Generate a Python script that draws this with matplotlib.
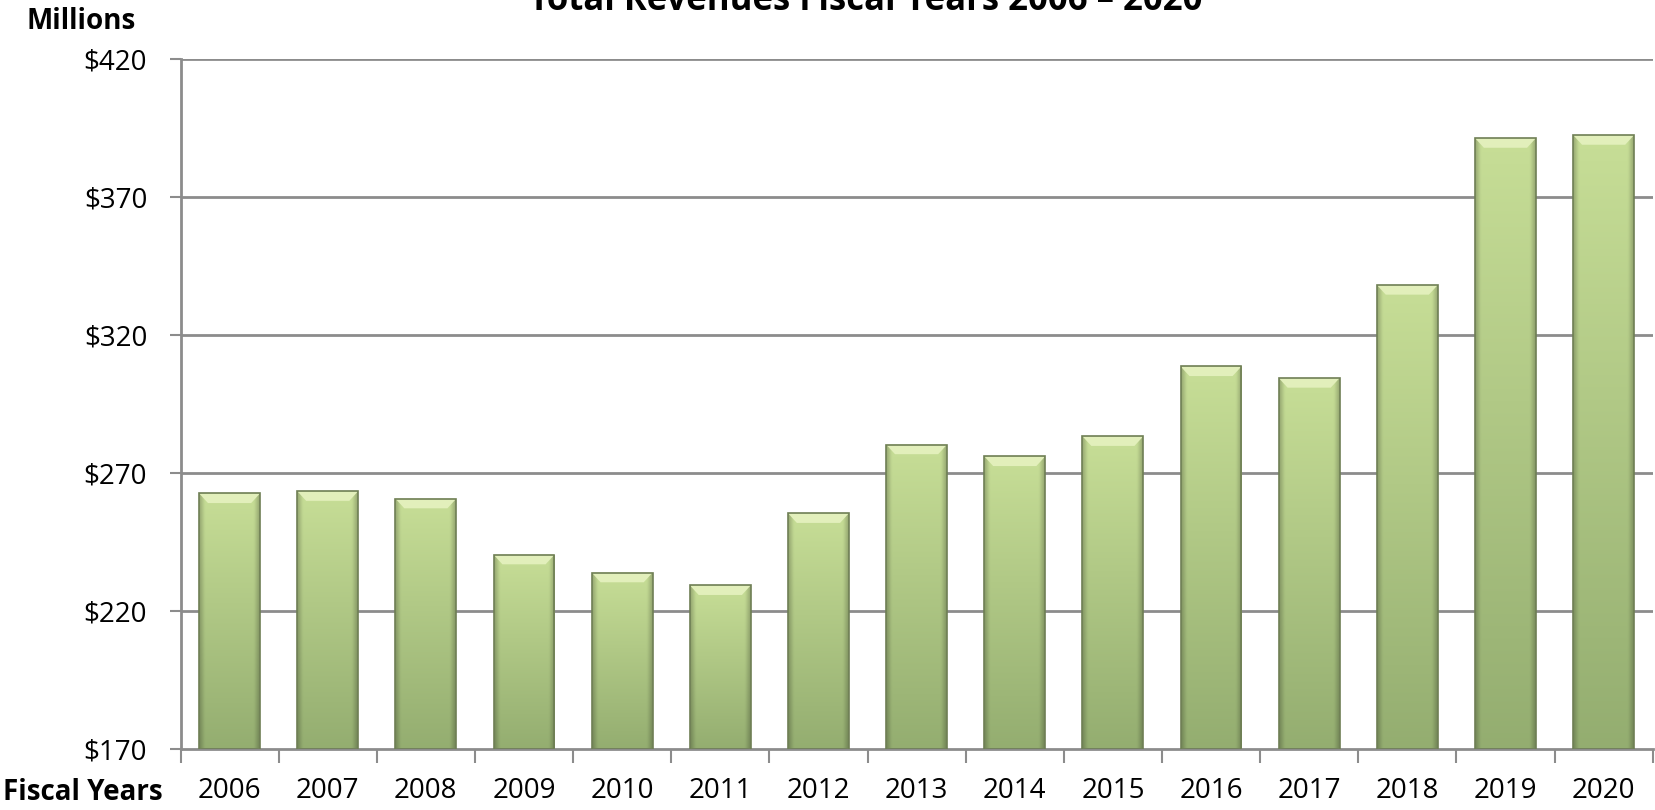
import numpy as np
import matplotlib.pyplot as plt
from matplotlib.patches import Polygon

# Revenue data (millions)
years = ['2006', '2007', '2008', '2009', '2010', '2011', '2012', '2013',
         '2014', '2015', '2016', '2017', '2018', '2019', '2020']
revenues = [262.6, 263.4, 260.7, 240.4, 233.9, 229.3, 255.4, 280.3,
            276.0, 283.3, 308.6, 304.4, 338.1, 391.3, 392.4]
yticks = [170, 220, 270, 320, 370, 420]

plt.rcParams['font.family'] = ['Open Sans', 'DejaVu Sans']

fig = plt.figure(figsize=(16.56, 8.10), dpi=100)
ax = fig.add_axes([0.109, 0.0753, 0.889, 0.852])

ymin, ymax = 170, 420
width = 0.62
x = np.arange(len(years))

# gridlines behind bars
for t in yticks[1:]:
    ax.axhline(t, color='#8c8c8c', lw=2, zorder=0)

light = np.array([0.78, 0.87, 0.59])
dark = np.array([0.58, 0.68, 0.44])

def gradient_img():
    ny, nx = 100, 40
    tv = np.linspace(0, 1, ny)[:, None]  # bottom->top
    col = dark + (light - dark) * tv[..., None]
    col = np.repeat(col, nx, axis=1)
    xs = np.linspace(-1, 1, nx)
    edge = 1 - 0.22 * np.clip((np.abs(xs) - 0.82) / 0.18, 0, 1)
    col = col * edge[None, :, None]
    return np.clip(col, 0, 1)

img = gradient_img()
bevel_h = 3.5
bevel_in = 0.09
for xi, v in zip(x, revenues):
    x0, x1 = xi - width / 2, xi + width / 2
    bar = ax.bar(xi, v - ymin, width, bottom=ymin, color='none',
                 edgecolor='#6f7f55', lw=1.2, zorder=3)[0]
    im = ax.imshow(img, extent=(x0, x1, ymin, v), aspect='auto',
                   origin='lower', zorder=2, interpolation='bilinear')
    im.set_clip_path(bar)
    top = Polygon([(x0, v), (x1, v), (x1 - bevel_in, v - bevel_h),
                   (x0 + bevel_in, v - bevel_h)], closed=True,
                  facecolor='#e2efbb', edgecolor='none', zorder=2.5)
    ax.add_patch(top)

ax.set_xlim(-0.5, len(years) - 0.5)
ax.set_ylim(ymin, ymax)

ax.set_yticks(yticks)
ax.set_yticklabels(['$%d' % t for t in yticks], fontsize=20)
ax.tick_params(axis='y', length=8, width=1.5, color='#8c8c8c', pad=16)

# category ticks at the boundaries
ax.set_xticks(np.arange(-0.5, len(years), 1.0))
ax.set_xticklabels([])
ax.set_xticks(x, minor=True)
ax.set_xticklabels(years, minor=True, fontsize=20)
ax.tick_params(axis='x', which='major', length=10, width=1.5, color='#8c8c8c')
ax.tick_params(axis='x', which='minor', length=0, pad=20)

for s in ['top', 'right']:
    ax.spines[s].set_visible(False)
for s in ['left', 'bottom']:
    ax.spines[s].set_color('#8c8c8c')
    ax.spines[s].set_linewidth(2)

fig.text(0.523, 0.988, 'Total Revenues Fiscal Years 2006 \u2013 2020',
         ha='center', va='baseline', fontsize=25, fontweight='bold')
fig.text(0.049, 0.973, 'Millions', ha='center', va='center',
         fontsize=20, fontweight='bold')
fig.text(0.05, 0.022, 'Fiscal Years', ha='center', va='center',
         fontsize=20, fontweight='bold')

fig.savefig('out.png', dpi=100)
